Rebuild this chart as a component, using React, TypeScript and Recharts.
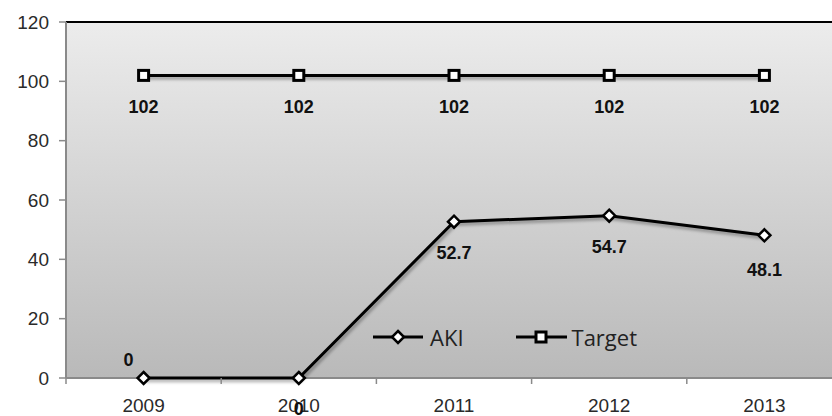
import React from 'react';
import { ComposedChart, Line, XAxis, YAxis, CartesianGrid, ReferenceLine, Legend, LabelList } from 'recharts';

const years = ['2009', '2010', '2011', '2012', '2013'];
const akiValues = [0, 0, 52.7, 54.7, 48.1];
const targetValues = [102, 102, 102, 102, 102];
const yTicks = [0, 20, 40, 60, 80, 100, 120];

// where each AKI value label sits relative to its point (dx, baseline dy)
const akiLabelOffsets = [[-15, -12], [0, 37], [0, 37], [0, 37], [0, 41]];

const CHART_W = 842;
const CHART_H = 416;
const Y_AXIS_W = 66;
const BAND = (CHART_W - Y_AXIS_W) / years.length;

const data = years.map((year, i) => ({ year, aki: akiValues[i], target: targetValues[i] }));

const tickFont = '"Liberation Sans", Arial, sans-serif';

const XTick = (props: any) => {
  const { x, y, payload } = props;
  const half = BAND / 2;
  return (
    <g>
      <line x1={x - half} y1={y} x2={x - half} y2={y + 6} stroke="#8a8a8a" strokeWidth={1.5} />
      <text x={x} y={y + 34} textAnchor="middle" fontFamily={tickFont} fontSize={19} fill="#2a2a2a">
        {payload.value}
      </text>
    </g>
  );
};

const Diamond = (props: any) => {
  const { cx, cy } = props;
  if (cx == null || cy == null) return null;
  const r = 6;
  return (
    <polygon
      points={`${cx},${cy - r} ${cx + r},${cy} ${cx},${cy + r} ${cx - r},${cy}`}
      fill="#fff"
      stroke="#000"
      strokeWidth={2.5}
    />
  );
};

const Square = (props: any) => {
  const { cx, cy } = props;
  if (cx == null || cy == null) return null;
  return <rect x={cx - 5} y={cy - 5} width={10} height={10} fill="#fff" stroke="#000" strokeWidth={3} />;
};

const akiLabel = (props: any) => {
  const { x, y, value, index } = props;
  const [dx, dy] = akiLabelOffsets[index] || [0, 37];
  return (
    <text x={x + dx} y={y + dy} textAnchor="middle" fontFamily={tickFont} fontWeight="bold" fontSize={18} fill="#111">
      {value}
    </text>
  );
};

const targetLabel = (props: any) => {
  const { x, y, value } = props;
  return (
    <text x={x} y={y + 38} textAnchor="middle" fontFamily={tickFont} fontWeight="bold" fontSize={18} fill="#111">
      {value}
    </text>
  );
};

const renderLegend = () => (
  <div style={{ display: 'flex', alignItems: 'center', fontFamily: '"Open Sans", sans-serif', fontSize: 22, color: '#222', lineHeight: '30px' }}>
    <svg width={52} height={16}>
      <line x1={0} y1={8} x2={50} y2={8} stroke="#000" strokeWidth={3} />
      <polygon points="25,2 31,8 25,14 19,8" fill="#fff" stroke="#000" strokeWidth={2.5} />
    </svg>
    <span style={{ marginLeft: 5, marginRight: 52 }}>AKI</span>
    <svg width={52} height={16}>
      <line x1={0} y1={8} x2={51} y2={8} stroke="#000" strokeWidth={3} />
      <rect x={20} y={3} width={10} height={10} fill="#fff" stroke="#000" strokeWidth={3} />
    </svg>
    <span style={{ marginLeft: 4 }}>Target</span>
  </div>
);

export default function App() {
  return (
    <div style={{ position: 'fixed', left: 0, top: 0, width: 832, height: 416, overflow: 'hidden', background: '#fff' }}>
      <ComposedChart width={CHART_W} height={CHART_H} data={data} margin={{ top: 22, right: 0, bottom: 0, left: 0 }}>
        <defs>
          <linearGradient id="plotBg" x1="0" y1="0" x2="0" y2="1">
            <stop offset="0%" stopColor="#ececec" />
            <stop offset="100%" stopColor="#b9b9b9" />
          </linearGradient>
          <filter id="lineShadow" filterUnits="userSpaceOnUse" x="0" y="0" width={CHART_W} height={CHART_H}>
            <feDropShadow dx="1.5" dy="2.5" stdDeviation="1.5" floodColor="#000" floodOpacity="0.35" />
          </filter>
        </defs>
        <CartesianGrid horizontal={false} vertical={false} fill="url(#plotBg)" stroke="none" />
        <XAxis
          dataKey="year"
          height={38}
          padding={{ left: BAND / 2, right: BAND / 2 }}
          tickLine={false}
          tickSize={0}
          tickMargin={0}
          tick={<XTick />}
          axisLine={false}
          interval={0}
        />
        <YAxis
          width={Y_AXIS_W}
          domain={[0, 120]}
          ticks={yTicks}
          tickSize={7}
          tickMargin={10}
          tickLine={{ stroke: '#8a8a8a', strokeWidth: 1.5 }}
          axisLine={{ stroke: '#8a8a8a', strokeWidth: 2 }}
          tick={{ fontFamily: tickFont, fontSize: 19, fill: '#2a2a2a' }}
        />
        <ReferenceLine y={0} stroke="#8a8a8a" strokeWidth={2} />
        <ReferenceLine y={120} stroke="#000" strokeWidth={2} />
        <Legend
          layout="horizontal"
          verticalAlign="middle"
          align="center"
          content={renderLegend}
          wrapperStyle={{ left: 373, top: 322, width: 'auto' }}
        />
        <Line
          dataKey="target"
          name="Target"
          stroke="#000"
          strokeWidth={3}
          dot={<Square />}
          activeDot={false}
          filter="url(#lineShadow)"
          isAnimationActive={false}
        >
          <LabelList dataKey="target" content={targetLabel} />
        </Line>
        <Line
          dataKey="aki"
          name="AKI"
          stroke="#000"
          strokeWidth={3}
          dot={<Diamond />}
          activeDot={false}
          filter="url(#lineShadow)"
          isAnimationActive={false}
        >
          <LabelList dataKey="aki" content={akiLabel} />
        </Line>
      </ComposedChart>
    </div>
  );
}
